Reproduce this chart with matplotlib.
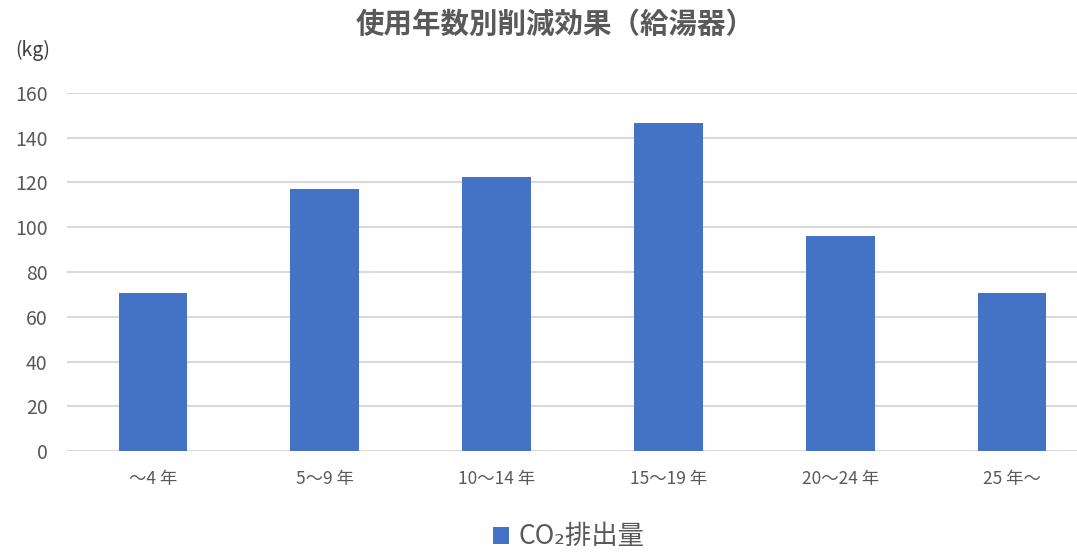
import matplotlib.pyplot as plt

plt.rcParams['font.family'] = ['Noto Sans CJK JP', 'DejaVu Sans']

categories = ['～4 年', '5～9 年', '10～14 年', '15～19 年', '20～24 年', '25 年～']
co2 = [70.6, 117.1, 122.5, 146.5, 96.1, 70.6]

fig = plt.figure(figsize=(10.77, 5.52), dpi=100)
# plot area runs past the right edge, as in the reference crop
ax = fig.add_axes([67/1077, 1-451/552, 1031/1077, 358/552])

x = range(len(categories))
ax.bar(x, co2, width=0.4, color='#4472C4', label='CO₂排出量', zorder=3)

ax.set_xlim(-0.5, len(categories) - 0.5)
ax.set_ylim(0, 160)
ax.set_yticks(range(0, 161, 20))
ax.set_xticks(list(x))
ax.set_xticklabels(categories)
ax.grid(axis='y', color='#D9D9D9', linewidth=1.5, zorder=0)
for s in ax.spines.values():
    s.set_visible(False)
ax.tick_params(length=0, colors='#595959', labelsize=12.5)
ax.tick_params(axis='y', labelsize=14, pad=14)
ax.tick_params(axis='x', pad=14)

fig.text(555/1077, 1-25/552, '使用年数別削減効果（給湯器）', ha='center', va='center',
         fontsize=20.5, fontweight='bold', color='#595959')
fig.text(15/1077, 1-50/552, '(kg)', ha='left', va='center', fontsize=14, color='#404040')

fig.legend(loc='center', bbox_to_anchor=(569/1077, 1-537/552), frameon=False,
           fontsize=19, handlelength=0.6, handleheight=0.6, handletextpad=0.35,
           borderpad=0.2, labelcolor='#595959')

plt.savefig('out.png')
